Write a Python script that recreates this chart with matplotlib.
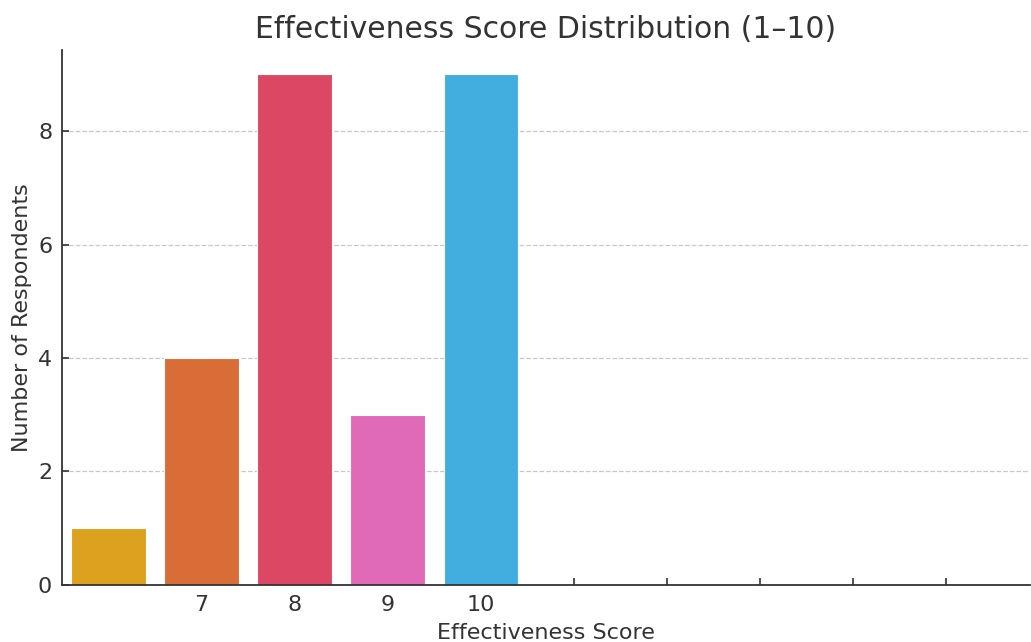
import matplotlib.pyplot as plt

# Survey counts per effectiveness score
scores = ['6', '7', '8', '9', '10']
counts = [1, 4, 9, 3, 9]
colors = ['#dca11f', '#d86d38', '#dc4763', '#e06ab7', '#42aee0']

fig, ax = plt.subplots(figsize=(10.31, 6.42), dpi=100)
fig.subplots_adjust(left=0.06, right=0.999, top=0.922, bottom=0.089)

positions = range(len(scores))
ax.bar(positions, counts, width=0.8, color=colors, edgecolor='white', linewidth=0.8, zorder=2)

# ticks run 1..9 but only the first few carry score labels
ticks = list(range(1, 10))
tick_labels = [scores[t] if t < len(scores) else '' for t in ticks]
ax.set_xticks(ticks)
ax.set_xticklabels(tick_labels)
ax.set_xlim(-0.5, 9.9)
ax.set_ylim(0, 9.43)
ax.set_yticks([0, 2, 4, 6, 8])

ax.tick_params(direction='in', length=5, width=1.2, colors='#333333', labelsize=16, pad=7)
ax.yaxis.grid(True, linestyle='--', color='#c8c8c8', linewidth=0.9, zorder=0)
ax.set_axisbelow(True)

for side in ['top', 'right']:
    ax.spines[side].set_visible(False)
for side in ['left', 'bottom']:
    ax.spines[side].set_color('#333333')
    ax.spines[side].set_linewidth(1.3)

ax.set_title('Effectiveness Score Distribution (1–10)', fontsize=21.5, color='#333333', pad=9)
ax.set_xlabel('Effectiveness Score', fontsize=16, color='#333333', labelpad=6)
ax.set_ylabel('Number of Respondents', fontsize=16, color='#333333')

fig.savefig('out.png')
